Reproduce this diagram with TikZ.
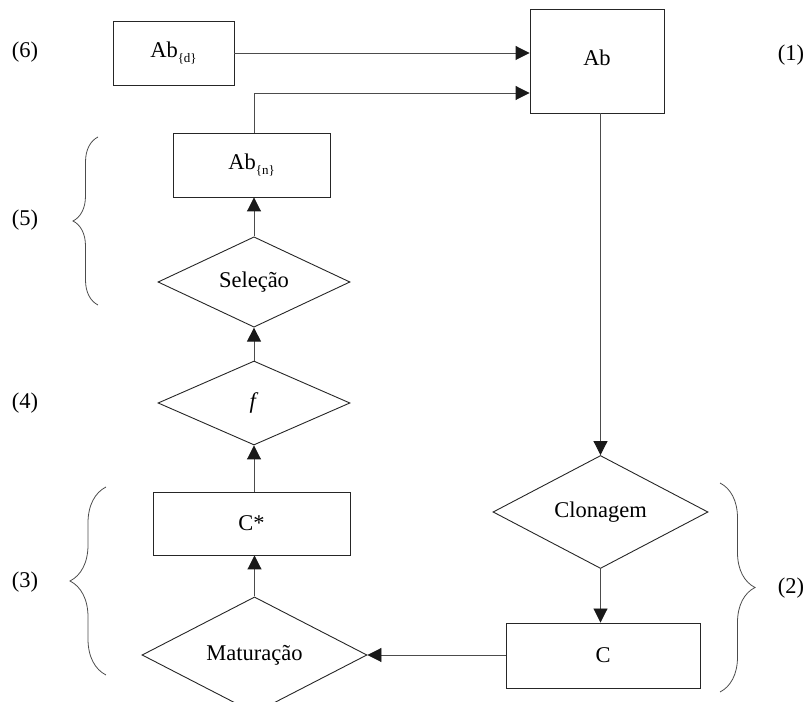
\documentclass[tikz,border=0pt]{standalone}
\usepackage{fontspec}
\setmainfont{Liberation Serif}
\usetikzlibrary{shapes.geometric,arrows.meta,decorations.pathreplacing}
\newcommand{\subtxt}[1]{\raisebox{-5pt}{\fontsize{13}{15}\selectfont\{#1\}}}
\begin{document}
\begin{tikzpicture}[x=1pt,y=1pt,
  txt/.style={font=\fontsize{22.5}{26}\selectfont},
  box/.style={txt, draw=black!85, line width=0.9pt, rectangle, inner sep=0pt},
  dia/.style={txt, draw=black!85, line width=0.9pt, diamond, inner sep=0pt},
  conn/.style={draw=black!70, line width=0.9pt, -{Triangle[length=14pt,width=14pt,color=black!90]}},
  brc/.style={draw=black!70, line width=0.8pt, decorate, decoration={brace, amplitude=#1}}]
\useasboundingbox (0,0) rectangle (807,702);
% nodes
\node[box, minimum width=121pt, minimum height=64pt] (abd) at (173.5,649) {Ab\subtxt{d}};
\node[box, minimum width=134pt, minimum height=104pt] (ab) at (597,641) {\raisebox{6pt}{Ab}};
\node[box, minimum width=157pt, minimum height=64pt] (abn) at (251.5,537) {Ab\subtxt{n}};
\node[dia, minimum width=192pt, minimum height=80pt] (sel) at (254,420) {Seleção};
\node[dia, minimum width=192pt, minimum height=84pt] (f) at (254,299) {\textit{f}};
\node[box, minimum width=197pt, minimum height=63pt] (cs) at (251.5,178.5) {C*};
\node[dia, minimum width=225pt, minimum height=86pt] (mat) at (254.5,47) {Maturação};
\node[dia, minimum width=215pt, minimum height=83pt] (clo) at (600.5,190) {Clonagem};
\node[box, minimum width=194pt, minimum height=65pt] (c) at (603,46.5) {C};
% labels
\node[txt] (l6) at (25,650) {(6)};
\node[txt] (l1) at (791,647) {(1)};
\node[txt] (l5) at (25,482) {(5)};
\node[txt] (l4) at (25,299) {(4)};
\node[txt] (l3) at (25,120) {(3)};
\node[txt] (l2) at (791,114) {(2)};
% connectors
\coordinate (k) at (254,609);
\draw[conn] (abd.east) -- (abd.east -| ab.west);
\draw[conn] (abn.north -| k) -- (k) -- (k -| ab.west);
\draw[conn] (sel.north) -- (sel.north |- abn.south);
\draw[conn] (f.north) -- (sel.south);
\draw[conn] (f.south |- cs.north) -- (f.south);
\draw[conn] (mat.north) -- (mat.north |- cs.south);
\draw[conn] (c.west |- mat.east) -- (mat.east);
\draw[conn] (clo.south) -- (clo.south |- c.north);
\draw[conn] (ab.south -| clo.north) -- (clo.north);
% braces
\coordinate (b5a) at (98,397);
\coordinate (b5b) at (98,565);
\draw[brc=25] (b5a) -- (b5b);
\coordinate (b3a) at (106,27);
\coordinate (b3b) at (106,215);
\draw[brc=36] (b3a) -- (b3b);
\coordinate (b2a) at (720,219);
\coordinate (b2b) at (720,10);
\draw[brc=35] (b2a) -- (b2b);
\end{tikzpicture}
\end{document}
